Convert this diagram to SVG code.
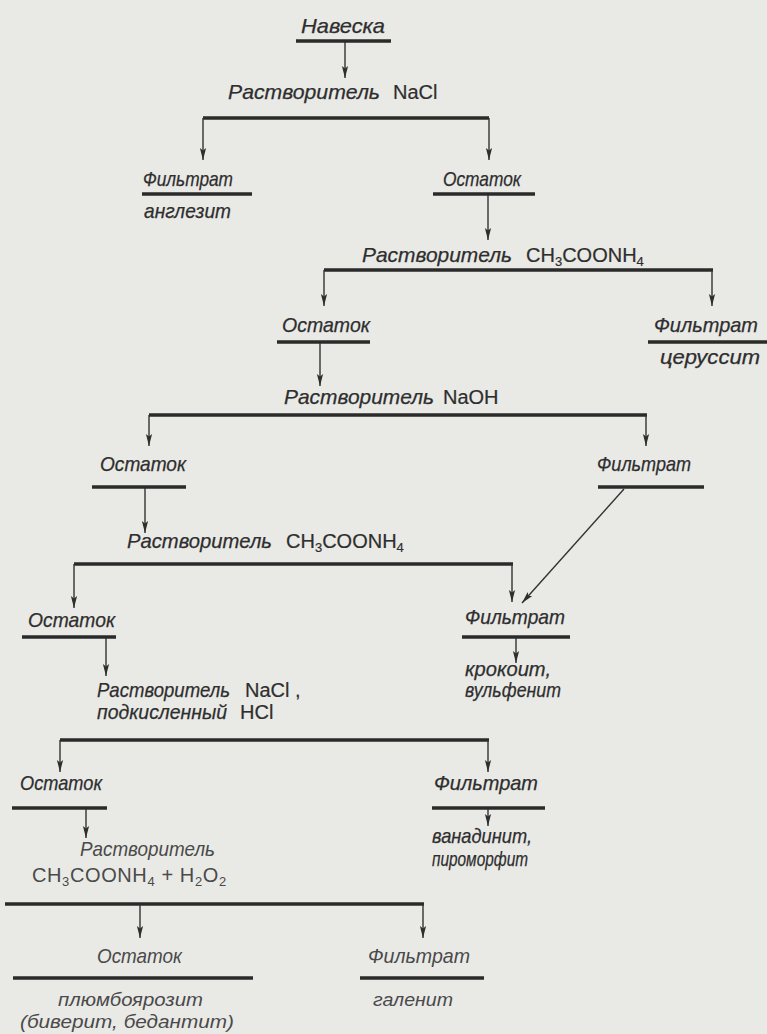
<svg xmlns="http://www.w3.org/2000/svg" width="767" height="1034" viewBox="0 0 767 1034">
<style>
.t{font-family:"Liberation Sans","DejaVu Sans",sans-serif;font-style:italic;font-size:21px;fill:#2e2e2e;stroke:#2e2e2e;stroke-width:0.25}
.f{font-family:"Liberation Sans","DejaVu Sans",sans-serif;font-size:20px;fill:#2e2e2e;stroke:#2e2e2e;stroke-width:0.2}
.s{font-size:13px}
.lt{fill:#4a4a4a;stroke:none}
.sm{font-size:19px}
.bar{stroke:#2a2a2a;stroke-width:3.6;fill:none}
.ln{stroke:#333;stroke-width:1.4;fill:none}
</style>
<defs>
<marker id="ah" markerUnits="userSpaceOnUse" markerWidth="13" markerHeight="8" refX="12" refY="4" orient="auto">
<path d="M0,0.9 L12,4 L0,7.1 L2.5,4 z" fill="#2e2e2e"/>
</marker>
</defs>
<rect width="767" height="1034" fill="#e9e9e6"/>

<g id="connectors">
<line class="ln" x1="345" y1="42" x2="345" y2="78" marker-end="url(#ah)"/>
<path class="bar" d="M203,118 H489"/>
<line class="ln" x1="203" y1="118" x2="203" y2="160" marker-end="url(#ah)"/>
<line class="ln" x1="489" y1="118" x2="489" y2="160" marker-end="url(#ah)"/>
<line class="ln" x1="488" y1="194" x2="488" y2="240" marker-end="url(#ah)"/>
<path class="bar" d="M324,270 H713"/>
<line class="ln" x1="324" y1="270" x2="324" y2="306" marker-end="url(#ah)"/>
<line class="ln" x1="712" y1="270" x2="712" y2="306" marker-end="url(#ah)"/>
<line class="ln" x1="320" y1="342" x2="320" y2="386" marker-end="url(#ah)"/>
<path class="bar" d="M149,415 H647"/>
<line class="ln" x1="149" y1="415" x2="149" y2="446" marker-end="url(#ah)"/>
<line class="ln" x1="646" y1="415" x2="646" y2="446" marker-end="url(#ah)"/>
<line class="ln" x1="145" y1="487" x2="145" y2="533" marker-end="url(#ah)"/>
<line class="ln" x1="624" y1="489" x2="522" y2="603" marker-end="url(#ah)"/>
<path class="bar" d="M74,564 H513"/>
<line class="ln" x1="74" y1="564" x2="74" y2="608" marker-end="url(#ah)"/>
<line class="ln" x1="512" y1="564" x2="512" y2="602" marker-end="url(#ah)"/>
<line class="ln" x1="106" y1="637" x2="106" y2="676" marker-end="url(#ah)"/>
<line class="ln" x1="516" y1="637" x2="516" y2="663" marker-end="url(#ah)"/>
<path class="bar" d="M60,740 H489"/>
<line class="ln" x1="60" y1="740" x2="60" y2="772" marker-end="url(#ah)"/>
<line class="ln" x1="488" y1="740" x2="488" y2="772" marker-end="url(#ah)"/>
<line class="ln" x1="86" y1="808" x2="86" y2="838" marker-end="url(#ah)"/>
<line class="ln" x1="488" y1="808" x2="488" y2="826" marker-end="url(#ah)"/>
<path class="bar" d="M5,904 H424"/>
<line class="ln" x1="140" y1="904" x2="140" y2="938" marker-end="url(#ah)"/>
<line class="ln" x1="423" y1="904" x2="423" y2="938" marker-end="url(#ah)"/>
</g>

<g id="n1"><text class="t" x="301" y="33" textLength="84" lengthAdjust="spacingAndGlyphs">Навеска</text><path class="bar" d="M296,41 H391"/></g>
<g id="n2"><text class="t" x="228" y="99" textLength="152" lengthAdjust="spacingAndGlyphs">Растворитель</text><text class="f" x="393" y="99">NaCl</text></g>
<g id="n3"><text class="t" x="143" y="186" textLength="90" lengthAdjust="spacingAndGlyphs">Фильтрат</text><path class="bar" d="M142,194 H252"/><text class="t" x="144" y="218" textLength="87" lengthAdjust="spacingAndGlyphs">англезит</text></g>
<g id="n4"><text class="t" x="443" y="186" textLength="78" lengthAdjust="spacingAndGlyphs">Остаток</text><path class="bar" d="M433,194 H535"/></g>
<g id="n5"><text class="t" x="362" y="262" textLength="150" lengthAdjust="spacingAndGlyphs">Растворитель</text><text class="f" x="526" y="262" font-size="19">CH<tspan class="s" dy="4">3</tspan><tspan dy="-4">COONH</tspan><tspan class="s" dy="4">4</tspan></text></g>
<g id="n6"><text class="t" x="282" y="332" textLength="88" lengthAdjust="spacingAndGlyphs">Остаток</text><path class="bar" d="M277,342 H370"/></g>
<g id="n7"><text class="t" x="654" y="332" textLength="104" lengthAdjust="spacingAndGlyphs">Фильтрат</text><path class="bar" d="M648,342 H767"/><text class="t" x="660" y="364" textLength="100" lengthAdjust="spacingAndGlyphs">церуссит</text></g>
<g id="n8"><text class="t" x="284" y="404" textLength="150" lengthAdjust="spacingAndGlyphs">Растворитель</text><text class="f" x="443" y="404">NaOH</text></g>
<g id="n9"><text class="t" x="100" y="471" textLength="86" lengthAdjust="spacingAndGlyphs">Остаток</text><path class="bar" d="M92,487 H186"/></g>
<g id="n10"><text class="t" x="597" y="471" textLength="94" lengthAdjust="spacingAndGlyphs">Фильтрат</text><path class="bar" d="M598,487 H704"/></g>
<g id="n11"><text class="t" x="127" y="548" textLength="145" lengthAdjust="spacingAndGlyphs">Растворитель</text><text class="f" x="286" y="548" font-size="18">CH<tspan class="s" dy="4">3</tspan><tspan dy="-4">COONH</tspan><tspan class="s" dy="4">4</tspan></text></g>
<g id="n12"><text class="t" x="28" y="627" textLength="87" lengthAdjust="spacingAndGlyphs">Остаток</text><path class="bar" d="M22,637 H116"/></g>
<g id="n13"><text class="t" x="465" y="624" textLength="100" lengthAdjust="spacingAndGlyphs">Фильтрат</text><path class="bar" d="M462,637 H570"/><text class="t" x="465" y="676" textLength="86" lengthAdjust="spacingAndGlyphs">крокоит,</text><text class="t" x="465" y="697" textLength="96" lengthAdjust="spacingAndGlyphs">вульфенит</text></g>
<g id="n14"><text class="t" x="97" y="697" textLength="133" lengthAdjust="spacingAndGlyphs">Растворитель</text><text class="f" x="245" y="697">NaCl ,</text><text class="t" x="97" y="719" textLength="130" lengthAdjust="spacingAndGlyphs">подкисленный</text><text class="f" x="240" y="719">HCl</text></g>
<g id="n15"><text class="t" x="20" y="790" textLength="82" lengthAdjust="spacingAndGlyphs">Остаток</text><path class="bar" d="M12,808 H107"/></g>
<g id="n16"><text class="t" x="434" y="790" textLength="104" lengthAdjust="spacingAndGlyphs">Фильтрат</text><path class="bar" d="M432,808 H545"/><text class="t" x="432" y="843" textLength="100" lengthAdjust="spacingAndGlyphs">ванадинит,</text><text class="t" x="432" y="866" textLength="96" lengthAdjust="spacingAndGlyphs">пироморфит</text></g>
<g id="n17"><text class="t lt" x="80" y="856" textLength="135" lengthAdjust="spacingAndGlyphs">Растворитель</text><text class="f lt" x="32" y="882" letter-spacing="0.6">CH<tspan class="s" dy="4">3</tspan><tspan dy="-4">COONH</tspan><tspan class="s" dy="4">4</tspan><tspan dy="-4"> + H</tspan><tspan class="s" dy="4">2</tspan><tspan dy="-4">O</tspan><tspan class="s" dy="4">2</tspan></text></g>
<g id="n18"><text class="t lt" x="97" y="963" textLength="85" lengthAdjust="spacingAndGlyphs">Остаток</text><path class="bar" d="M13,978 H253"/><text class="t lt sm" x="58" y="1006" textLength="145" lengthAdjust="spacingAndGlyphs">плюмбоярозит</text><text class="t lt sm" x="20" y="1028" textLength="214" lengthAdjust="spacingAndGlyphs">(биверит, бедантит)</text></g>
<g id="n19"><text class="t lt" x="368" y="963" textLength="102" lengthAdjust="spacingAndGlyphs">Фильтрат</text><path class="bar" d="M360,978 H484"/><text class="t lt sm" x="373" y="1006" textLength="80" lengthAdjust="spacingAndGlyphs">галенит</text></g>
</svg>
